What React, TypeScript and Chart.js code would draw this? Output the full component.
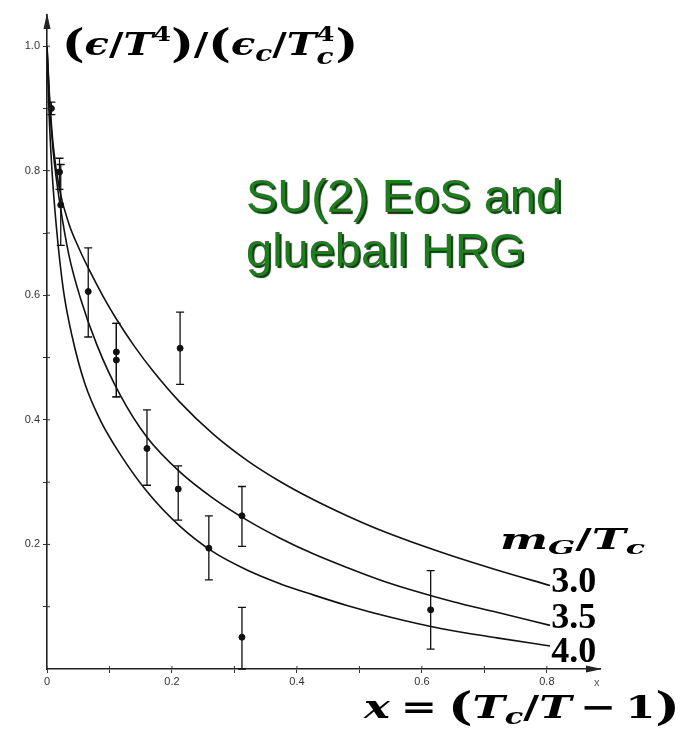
import React, { useEffect, useRef } from "react";
import { Chart, registerables } from "chart.js";

Chart.register(...registerables);

// ---------- data ----------
const xTickValues = [0, 0.1, 0.2, 0.3, 0.4, 0.5, 0.6, 0.7, 0.8];
const xTickLabels = ["0", "", "0.2", "", "0.4", "", "0.6", "", "0.8"];
const yTickValues = [0.1, 0.2, 0.3, 0.4, 0.5, 0.6, 0.7, 0.8, 0.9, 1.0];
const yTickLabels = ["", "0.2", "", "0.4", "", "0.6", "", "0.8", "", "1.0"];

const curveNames = ["3.0", "3.5", "4.0"];

const curve30X = [0, 0.004, 0.01, 0.02, 0.035, 0.05, 0.066, 0.09, 0.111, 0.14, 0.17, 0.213, 0.266, 0.32, 0.373, 0.426, 0.48, 0.533, 0.586, 0.65, 0.72, 0.805];
const curve30Y = [1.0, 0.92, 0.84, 0.77, 0.715, 0.678, 0.644, 0.598, 0.562, 0.518, 0.478, 0.428, 0.377, 0.335, 0.301, 0.272, 0.246, 0.223, 0.203, 0.181, 0.159, 0.134];

const curve35X = [0, 0.004, 0.01, 0.021, 0.035, 0.053, 0.08, 0.117, 0.16, 0.213, 0.266, 0.32, 0.373, 0.426, 0.48, 0.533, 0.586, 0.65, 0.72, 0.805];
const curve35Y = [1.0, 0.91, 0.83, 0.745, 0.665, 0.597, 0.52, 0.44, 0.372, 0.316, 0.274, 0.239, 0.21, 0.185, 0.163, 0.143, 0.126, 0.108, 0.091, 0.07];

const curve40X = [0, 0.003, 0.008, 0.015, 0.026, 0.04, 0.06, 0.085, 0.117, 0.16, 0.213, 0.266, 0.32, 0.373, 0.426, 0.48, 0.55, 0.63, 0.72, 0.805];
const curve40Y = [1.0, 0.9, 0.8, 0.71, 0.61, 0.535, 0.46, 0.4, 0.345, 0.285, 0.229, 0.188, 0.159, 0.137, 0.119, 0.102, 0.083, 0.065, 0.05, 0.037];

const pointX = [0.007, 0.02, 0.022, 0.066, 0.111, 0.111, 0.16, 0.21, 0.213, 0.259, 0.312, 0.312, 0.614];
const pointY = [0.9, 0.798, 0.745, 0.606, 0.509, 0.496, 0.354, 0.289, 0.515, 0.194, 0.246, 0.051, 0.095];
const pointLow = [0.89, 0.77, 0.68, 0.533, 0.437, 0.437, 0.295, 0.239, 0.457, 0.143, 0.197, 0.0, 0.032];
const pointHigh = [0.91, 0.82, 0.81, 0.676, 0.555, 0.555, 0.416, 0.326, 0.573, 0.246, 0.293, 0.099, 0.158];

// label anchor (data coords) for the curve names
const curveLabelX = 0.807;
const curveLabelY = [0.124, 0.066, 0.011];

// ---------- helpers ----------
type Part = { t: string; it?: boolean; s?: number; dy?: number; gap?: number; adv?: boolean };
const MATH_FONT = '"DejaVu Serif", "Liberation Serif", serif';

function mathWidth(ctx: CanvasRenderingContext2D, size: number, parts: Part[]) {
  let w = 0;
  for (const p of parts) {
    const fs = size * (p.s ?? 1);
    ctx.font = `${p.it ? "italic " : ""}bold ${fs}px ${MATH_FONT}`;
    w += (p.gap ?? 0) * size;
    if (p.adv !== false) w += ctx.measureText(p.t).width;
  }
  return w;
}

function drawMath(ctx: CanvasRenderingContext2D, x: number, y: number, size: number, parts: Part[], target: number) {
  const nat = mathWidth(ctx, size, parts);
  const sx = target / nat;
  ctx.save();
  ctx.translate(x, y);
  ctx.scale(sx, 1);
  ctx.fillStyle = "#000";
  ctx.textBaseline = "alphabetic";
  ctx.textAlign = "left";
  let cx = 0;
  for (const p of parts) {
    const fs = size * (p.s ?? 1);
    ctx.font = `${p.it ? "italic " : ""}bold ${fs}px ${MATH_FONT}`;
    cx += (p.gap ?? 0) * size;
    ctx.fillText(p.t, cx, (p.dy ?? 0) * size);
    if (p.adv !== false) cx += ctx.measureText(p.t).width;
  }
  ctx.restore();
}

const yTitleParts: Part[] = [
  { t: "(", s: 1.2, dy: 0.05 },
  { t: "ϵ", it: true },
  { t: "/" },
  { t: "T", it: true },
  { t: "4", s: 0.65, dy: -0.45 },
  { t: ")", s: 1.2, dy: 0.05 },
  { t: "/" },
  { t: "(", s: 1.2, dy: 0.05 },
  { t: "ϵ", it: true },
  { t: "c", it: true, s: 0.7, dy: 0.2 },
  { t: "/" },
  { t: "T", it: true },
  { t: "4", s: 0.65, dy: -0.45, adv: false },
  { t: "c", it: true, s: 0.7, dy: 0.28 },
  { t: ")", s: 1.2, dy: 0.05, gap: 0.05 },
];

const xTitleParts: Part[] = [
  { t: "x", it: true },
  { t: "=", gap: 0.25 },
  { t: "(", s: 1.2, dy: 0.05, gap: 0.25 },
  { t: "T", it: true },
  { t: "c", it: true, s: 0.7, dy: 0.2 },
  { t: "/" },
  { t: "T", it: true },
  { t: "−", gap: 0.2 },
  { t: "1", gap: 0.2 },
  { t: ")", s: 1.2, dy: 0.05 },
];

const mParts: Part[] = [
  { t: "m", it: true },
  { t: "G", it: true, s: 0.7, dy: 0.2 },
  { t: "/" },
  { t: "T", it: true },
  { t: "c", it: true, s: 0.7, dy: 0.2 },
];

const decorPlugin = {
  id: "decor",
  beforeDatasetsDraw(chart: any) {
    const ctx: CanvasRenderingContext2D = chart.ctx;
    const xs = chart.scales.x;
    const ys = chart.scales.y;
    ctx.save();
    ctx.strokeStyle = "#111";
    ctx.lineWidth = 1.3;
    for (let i = 0; i < pointX.length; i++) {
      const px = xs.getPixelForValue(pointX[i]);
      const lo = ys.getPixelForValue(pointLow[i]);
      const hi = ys.getPixelForValue(pointHigh[i]);
      ctx.beginPath();
      ctx.moveTo(px, lo);
      ctx.lineTo(px, hi);
      ctx.moveTo(px - 4, lo);
      ctx.lineTo(px + 4, lo);
      ctx.moveTo(px - 4, hi);
      ctx.lineTo(px + 4, hi);
      ctx.stroke();
    }
    ctx.restore();
  },
  afterDraw(chart: any) {
    const ctx: CanvasRenderingContext2D = chart.ctx;
    const xs = chart.scales.x;
    const ys = chart.scales.y;
    const area = chart.chartArea;
    ctx.save();
    // inward tick marks
    ctx.strokeStyle = "#333";
    ctx.lineWidth = 1;
    ctx.beginPath();
    for (const v of xTickValues) {
      const px = xs.getPixelForValue(v);
      ctx.moveTo(px, area.bottom);
      ctx.lineTo(px, area.bottom - 3);
    }
    for (const v of yTickValues) {
      const py = ys.getPixelForValue(v);
      ctx.moveTo(area.left, py);
      ctx.lineTo(area.left + 3, py);
    }
    ctx.stroke();
    // arrows
    ctx.fillStyle = "#222";
    ctx.beginPath();
    ctx.moveTo(area.left, area.top - 2);
    ctx.lineTo(area.left - 3.5, area.top + 14);
    ctx.lineTo(area.left + 3.5, area.top + 14);
    ctx.closePath();
    ctx.fill();
    ctx.beginPath();
    ctx.moveTo(area.right + 2, area.bottom);
    ctx.lineTo(area.right - 14, area.bottom - 3.5);
    ctx.lineTo(area.right - 14, area.bottom + 3.5);
    ctx.closePath();
    ctx.fill();

    // curve labels
    ctx.fillStyle = "#000";
    ctx.font = 'bold 36px "Liberation Serif", serif';
    ctx.textAlign = "left";
    ctx.textBaseline = "alphabetic";
    for (let i = 0; i < curveNames.length; i++) {
      ctx.fillText(curveNames[i], xs.getPixelForValue(curveLabelX), ys.getPixelForValue(curveLabelY[i]));
    }

    // white box behind x label
    ctx.fillStyle = "#fff";
    ctx.fillRect(360, 687, 326, 42);
    // faint axis letter
    ctx.fillStyle = "#555";
    ctx.font = '11px "Liberation Sans", sans-serif';
    ctx.fillText("x", 594, 686);

    // math labels
    drawMath(ctx, 62, 55, 32, yTitleParts, 296);
    drawMath(ctx, 364, 718, 32, xTitleParts, 316);
    drawMath(ctx, 500, 549, 27, mParts, 145);

    // green annotation
    ctx.font = '47px "Liberation Sans", Arial, sans-serif';
    ctx.fillStyle = "#1f7d1f";
    ctx.shadowColor = "rgba(5,45,5,0.95)";
    ctx.shadowOffsetX = 2;
    ctx.shadowOffsetY = 2;
    ctx.shadowBlur = 1;
    ctx.fillText("SU(2) EoS and", 246, 212);
    ctx.fillText("glueball HRG", 246, 266);
    ctx.restore();
  },
};

export default function App() {
  const ref = useRef<HTMLCanvasElement | null>(null);
  useEffect(() => {
    if (!ref.current) return;
    const lineStyle = {
      showLine: true,
      borderColor: "#111",
      borderWidth: 1.6,
      pointRadius: 0,
      fill: false,
      cubicInterpolationMode: "monotone" as const,
    };
    const chart = new Chart(ref.current, {
      type: "scatter",
      data: {
        datasets: [
          { label: curveNames[0], data: curve30X.map((x, i) => ({ x, y: curve30Y[i] })), ...lineStyle },
          { label: curveNames[1], data: curve35X.map((x, i) => ({ x, y: curve35Y[i] })), ...lineStyle },
          { label: curveNames[2], data: curve40X.map((x, i) => ({ x, y: curve40Y[i] })), ...lineStyle },
          {
            label: "lattice",
            data: pointX.map((x, i) => ({ x, y: pointY[i] })),
            pointRadius: 3,
            backgroundColor: "#111",
            borderColor: "#111",
            showLine: false,
          },
        ],
      },
      options: {
        responsive: false,
        maintainAspectRatio: false,
        animation: false,
        layout: { padding: { left: 0, right: 86, top: 15, bottom: 0 } },
        plugins: { legend: { display: false }, tooltip: { enabled: false }, title: { display: false } },
        scales: {
          x: {
            type: "linear",
            min: 0,
            max: 0.885,
            afterBuildTicks: (s: any) => {
              s.ticks = xTickValues.map((v) => ({ value: v }));
            },
            afterFit: (s: any) => {
              s.height = 60;
            },
            grid: { drawOnChartArea: false, drawTicks: true, tickLength: 4, color: "#333", lineWidth: 1 },
            border: { display: true, color: "#222", width: 1.6 },
            ticks: {
              autoSkip: false,
              maxRotation: 0,
              padding: 2,
              color: "#333",
              font: { family: "Liberation Sans", size: 11 },
              callback: (v: any) => {
                const i = xTickValues.findIndex((t) => Math.abs(t - Number(v)) < 1e-6);
                return i >= 0 ? xTickLabels[i] : "";
              },
            },
          },
          y: {
            type: "linear",
            min: 0,
            max: 1.05,
            afterBuildTicks: (s: any) => {
              s.ticks = yTickValues.map((v) => ({ value: v }));
            },
            afterFit: (s: any) => {
              s.width = 47;
            },
            grid: { drawOnChartArea: false, drawTicks: true, tickLength: 4, color: "#333", lineWidth: 1 },
            border: { display: true, color: "#222", width: 1.6 },
            ticks: {
              autoSkip: false,
              padding: 3,
              color: "#333",
              font: { family: "Liberation Sans", size: 11 },
              callback: (v: any) => {
                const i = yTickValues.findIndex((t) => Math.abs(t - Number(v)) < 1e-6);
                return i >= 0 ? yTickLabels[i] : "";
              },
            },
          },
        },
      },
      plugins: [decorPlugin],
    });
    return () => chart.destroy();
  }, []);

  return (
    <div style={{ position: "fixed", left: 0, top: 0, width: 686, height: 729, background: "#fff" }}>
      <canvas ref={ref} width={686} height={729} style={{ width: 686, height: 729, display: "block" }} />
    </div>
  );
}
